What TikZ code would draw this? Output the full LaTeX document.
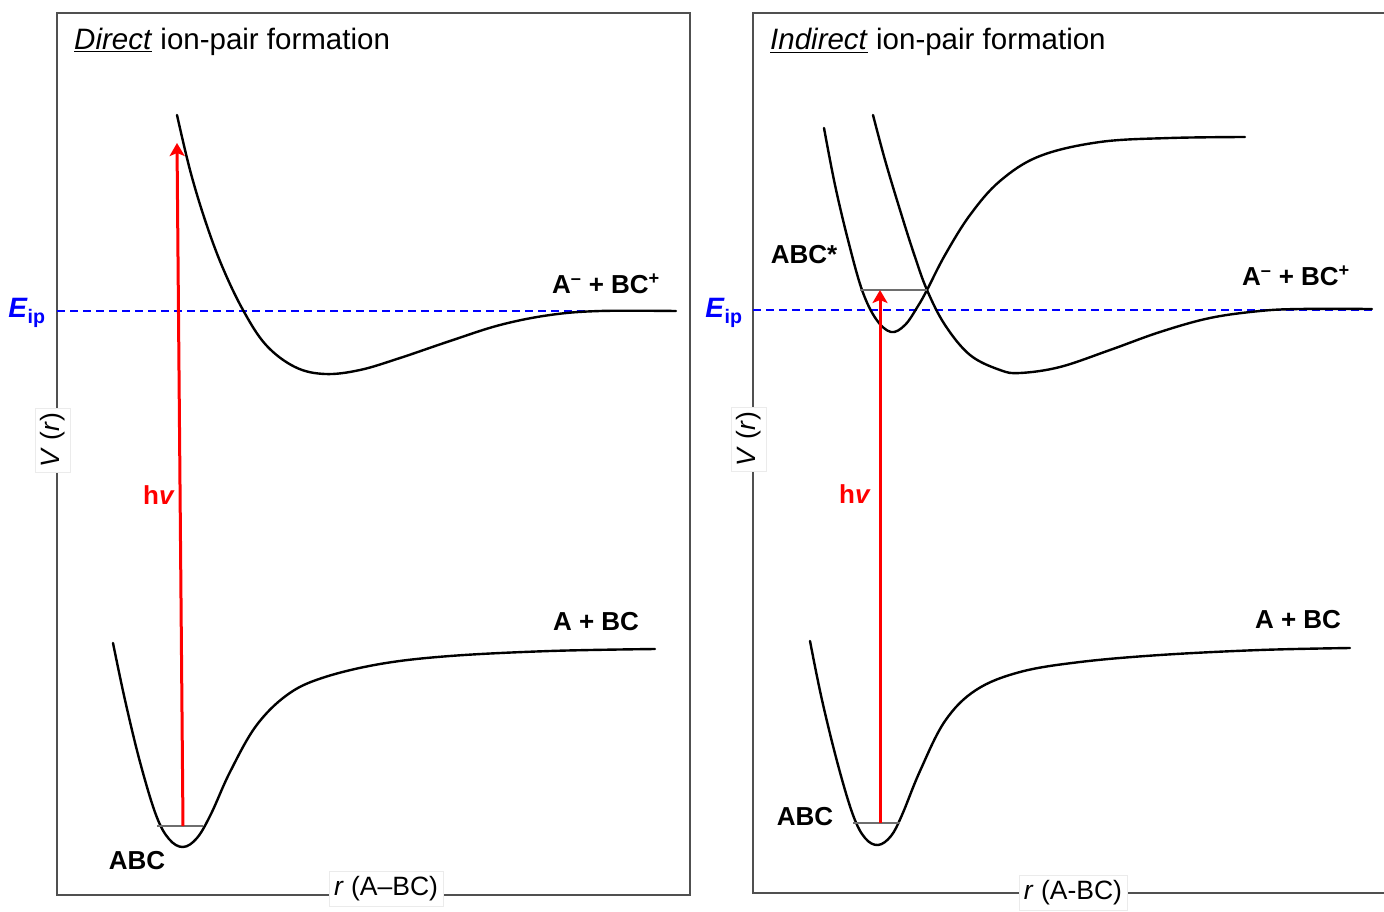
\documentclass[tikz,border=0pt]{standalone}
\usepackage{fontspec}
\setmainfont{Liberation Sans}
\usepackage{tikz}
\usetikzlibrary{positioning,arrows.meta}
\definecolor{FrameGrey}{HTML}{505050}
\definecolor{LevelGrey}{HTML}{6E6E6E}
\definecolor{PhotonRed}{HTML}{FF0000}
\definecolor{IonBlue}{HTML}{0000FF}
\tikzset{
  pframe/.style={draw=FrameGrey,line width=1.5pt},
  pcurve/.style={draw=black,line width=2.4pt,line join=round,line cap=round},
  plevel/.style={draw=LevelGrey,line width=1.8pt},
  eipline/.style={draw=IonBlue,line width=2pt,dash pattern=on 8pt off 5pt},
  photon/.style={-{Stealth[length=13pt,width=15pt,inset=3pt]},draw=PhotonRed,line width=3pt},
  ptitle/.style={anchor=base west,inner sep=0pt,font=\fontsize{29.5}{34}\selectfont},
  plabel/.style={inner sep=0pt,font=\fontsize{26}{30}\selectfont\bfseries},
  axlabel/.style={fill=white,draw=black!8,inner sep=5pt,font=\fontsize{26.5}{30}\selectfont},
  eiplabel/.style={inner sep=0pt,text=IonBlue,font=\fontsize{28}{32}\selectfont\bfseries},
  hvlabel/.style={inner sep=0pt,text=PhotonRed,font=\fontsize{26}{30}\selectfont\bfseries}
}
\newcommand{\anion}{A\textsuperscript{--} + BC\textsuperscript{+}}
\newcommand{\Eip}{\textit{E}\textsubscript{ip}}
\newcommand{\hnu}{h\textit{v}}

\begin{document}
\begin{tikzpicture}[x=1pt,y=-1pt]
  \useasboundingbox (0,0) rectangle (1384,912);
  % left panel: direct
  \draw[pframe] (57,13) rectangle (690,895);
  \draw[eipline] (57,311) -- (676,311);
  \draw[pcurve] plot[smooth,tension=0.6] coordinates {(113,643) (125,700) (140,762) (156,815) (169,839) (183,847) (197,838) (211,814) (230,772) (256,726) (287,695) (322,678) (380,664) (450,656) (550,651) (655,649)};
  \draw[pcurve] plot[smooth,tension=0.6] coordinates {(177,115) (190,170) (205,220) (222,266) (243,310) (266,345) (295,367) (325,374) (360,370) (400,358) (450,341) (500,325) (550,315) (600,311) (676,311)};
  \draw[plevel] (157,826) -- (203,826);
  \coordinate (lfoot) at (183,826);
  \coordinate (lhead) at (177,143);
  \draw[photon] (lfoot) -- (lhead);
  \node[ptitle] (ltitle) at (74,50) {\underline{\textit{Direct}} ion-pair formation};
  \node[eiplabel] (leip) at (27,313) {\Eip};
  \node[hvlabel] (lhv) at (159,495) {\hnu};
  \node[plabel] (lion) at (606,284) {\anion};
  \node[plabel] (lneut) at (596,622) {A + BC};
  \node[plabel] (labc) at (137,861) {ABC};
  \node[axlabel,rotate=90] (lvr) at (53,440) {\textit{V} (\textit{r})};
  \node[axlabel] (lrab) at (386,889) {\textit{r} (A--BC)};
  % right panel: indirect
  \draw[pframe] (1390,13) -- (753,13) -- (753,893) -- (1390,893);
  \draw[eipline] (753,310) -- (1372,310);
  \draw[pcurve] plot[smooth,tension=0.6] coordinates {(810,641) (822,700) (838,765) (853,815) (865,838) (878,845) (891,836) (902,815) (920,771) (945,721) (976,690) (1020,672) (1080,662) (1160,655) (1260,650) (1350,648)};
  \draw[pcurve] plot[smooth,tension=0.6] coordinates {(824,128) (835,185) (848,240) (862,290) (876,319) (891,332) (905,325) (918,306) (927,290) (945,255) (970,215) (1000,181) (1040,156) (1100,142) (1170,138) (1245,137)};
  \draw[pcurve] plot[smooth,tension=0.6] coordinates {(873,115) (885,160) (900,210) (914,254) (927,290) (945,325) (970,355) (1000,370) (1020,373) (1060,367) (1110,350) (1160,332) (1210,318) (1260,311) (1300,309) (1372,309)};
  \draw[plevel] (860,290) -- (927,290);
  \draw[plevel] (853,823) -- (900,823);
  \coordinate (rfoot) at (880,823);
  \coordinate (rhead) at (880,290);
  \draw[photon] (rfoot) -- (rhead);
  \node[ptitle] (rtitle) at (770,50) {\underline{\textit{Indirect}} ion-pair formation};
  \node[eiplabel] (reip) at (724,313) {\Eip};
  \node[hvlabel] (rhv) at (855,494) {\hnu};
  \node[plabel] (rstar) at (804,255) {ABC*};
  \node[plabel] (rion) at (1296,276) {\anion};
  \node[plabel] (rneut) at (1298,620) {A + BC};
  \node[plabel] (rabc) at (805,817) {ABC};
  \node[axlabel,rotate=90] (rvr) at (749,439) {\textit{V} (\textit{r})};
  \node[axlabel] (rrab) at (1073,893) {\textit{r} (A-BC)};
\end{tikzpicture}
\end{document}
